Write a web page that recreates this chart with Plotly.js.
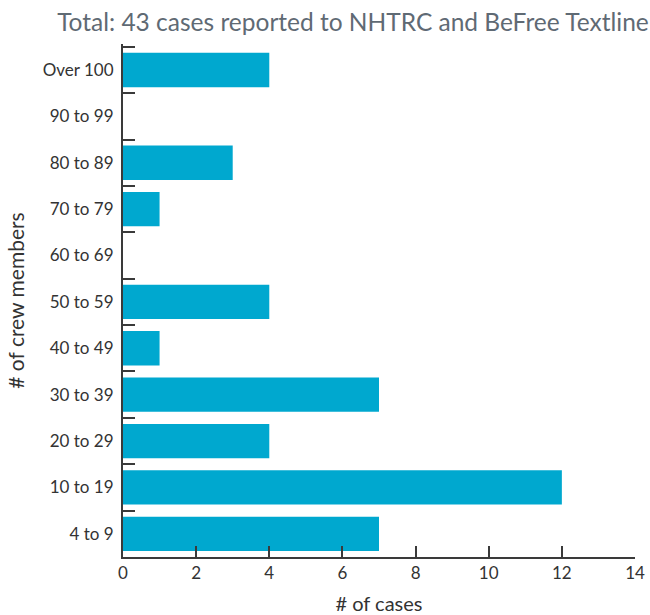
<!DOCTYPE html>
<html>
<head>
<meta charset="utf-8">
<script src="https://cdn.plot.ly/plotly-3.0.1.min.js"></script>
<style>html,body{margin:0;padding:0;background:#fff;}#chart{width:650px;height:615px;}</style>
</head>
<body>
<div id="chart"></div>
<script>
// Crew size bands, bottom to top
const crewBands = ["4 to 9", "10 to 19", "20 to 29", "30 to 39", "40 to 49", "50 to 59",
                   "60 to 69", "70 to 79", "80 to 89", "90 to 99", "Over 100"];
// Number of cases in each band
const caseCounts = [7, 12, 4, 7, 1, 4, 0, 1, 3, 0, 4];
const xTicks = [0, 2, 4, 6, 8, 10, 12, 14];

// Band edges (category positions ± 0.5) carry the y tick marks
const bandEdges = crewBands.map((_, i) => i - 0.5).concat([crewBands.length - 0.5]);
// Small headroom so the top edge tick is not trimmed at the axis end
const yRange = [-0.5, crewBands.length - 0.5 + 0.06];

const axisColor = "#3a3a3a";
const fontFamily = "Lato, 'Open Sans', sans-serif";

const bars = {
  type: "bar",
  orientation: "h",
  x: caseCounts,
  y: crewBands,
  marker: {color: "#00a8cf"},
  hoverinfo: "x+y"
};

// Empty trace so the band-edge tick axis gets drawn
const edgeAxisHolder = {
  type: "scatter",
  mode: "markers",
  x: [],
  y: [],
  yaxis: "y2",
  hoverinfo: "skip",
  showlegend: false
};

const layout = {
  width: 650,
  height: 615,
  margin: {l: 123, r: 15, t: 44, b: 58},
  paper_bgcolor: "#ffffff",
  plot_bgcolor: "#ffffff",
  bargap: 0.26,
  showlegend: false,
  font: {family: fontFamily, color: "#333333", size: 18},
  title: {
    text: "Total: 43 cases reported to NHTRC and BeFree Textline",
    font: {family: fontFamily, size: 24.5, color: "#5f6a74"},
    x: 0.543, xanchor: "center", y: 0.964, yanchor: "middle"
  },
  xaxis: {
    range: [0, 14],
    tickvals: xTicks,
    ticks: "inside",
    ticklen: 11,
    tickwidth: 2,
    tickcolor: axisColor,
    showline: true,
    linecolor: axisColor,
    linewidth: 2,
    showgrid: false,
    zeroline: false,
    tickfont: {size: 17, color: "#333333"},
    title: {text: "# of cases", font: {size: 20, color: "#333333"}, standoff: 16}
  },
  yaxis: {
    type: "category",
    categoryorder: "array",
    categoryarray: crewBands,
    range: yRange,
    ticks: "",
    showline: true,
    linecolor: axisColor,
    linewidth: 2,
    showgrid: false,
    zeroline: false,
    ticklabelstandoff: 4,
    tickfont: {size: 17, color: "#333333"},
    title: {text: "# of crew members", font: {size: 21, color: "#333333"}, standoff: 12}
  },
  yaxis2: {
    overlaying: "y",
    side: "left",
    anchor: "x",
    range: yRange,
    tickmode: "array",
    tickvals: bandEdges,
    showticklabels: false,
    ticks: "inside",
    ticklen: 12,
    tickwidth: 2,
    tickcolor: axisColor,
    showline: false,
    showgrid: false,
    zeroline: false
  }
};

Plotly.newPlot("chart", [bars, edgeAxisHolder], layout, {displayModeBar: false, staticPlot: true});
</script>
</body>
</html>
